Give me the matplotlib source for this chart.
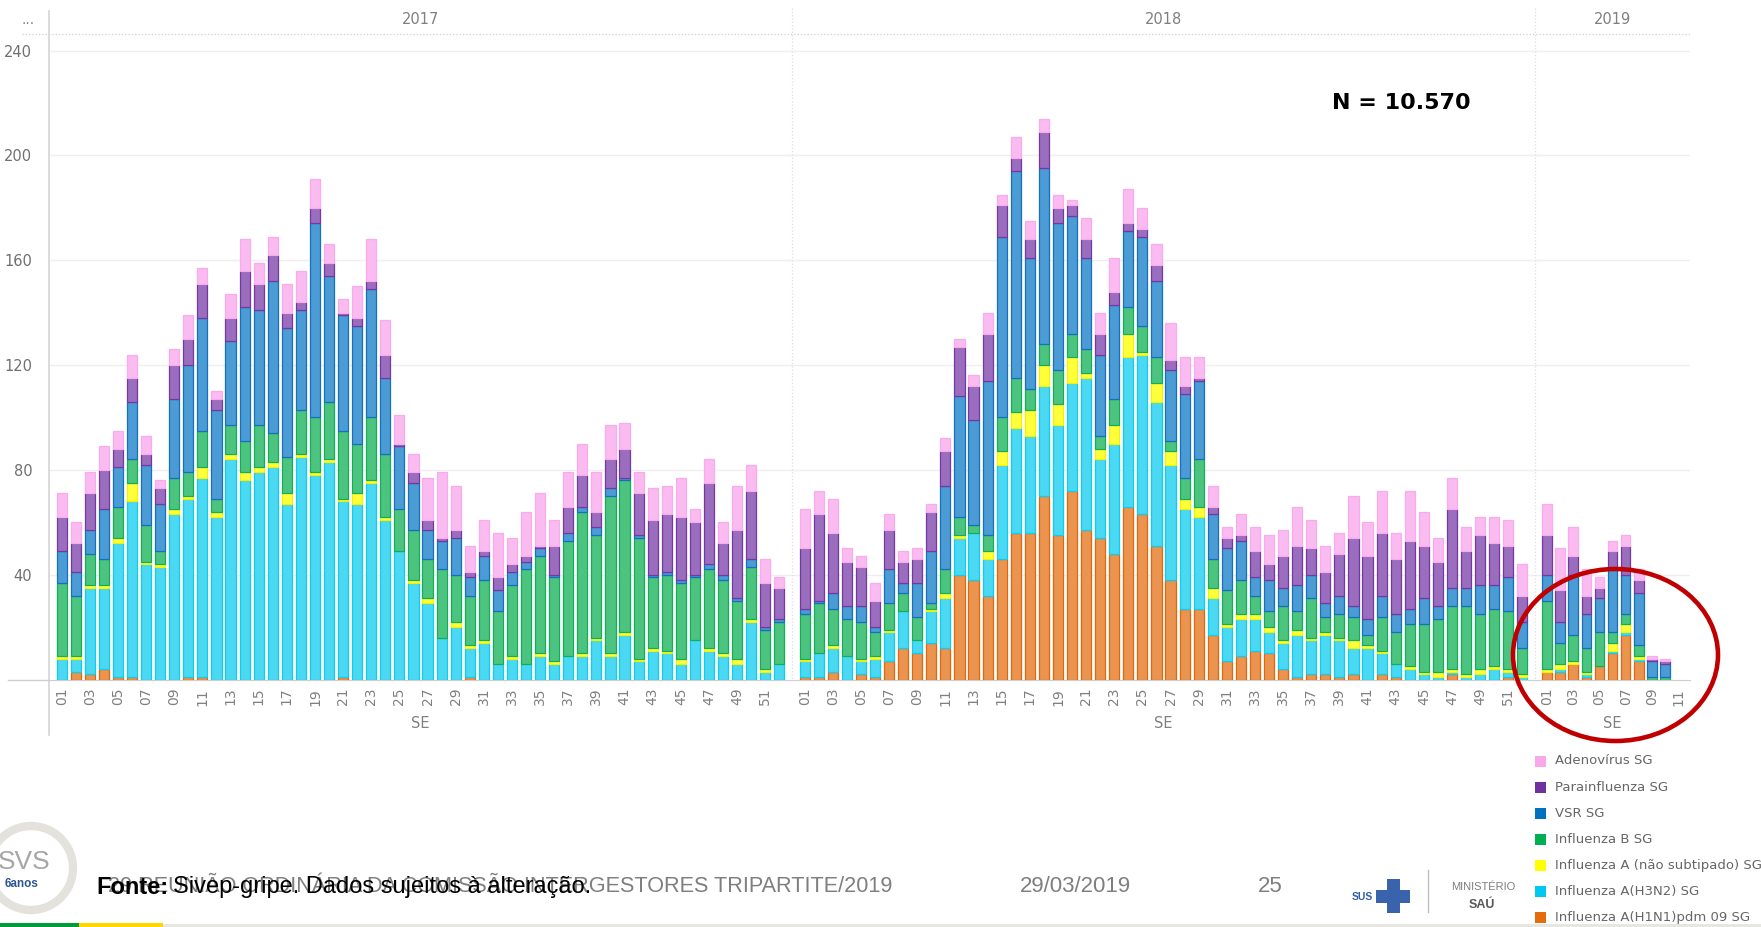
import numpy as np
import matplotlib
matplotlib.use("Agg")
import matplotlib.pyplot as plt
from matplotlib.patches import Rectangle, Ellipse
from matplotlib.lines import Line2D

W, H = 1761, 927

# casos por semana epidemiológica (SE), empilhados de baixo para cima
h1n1_2017 = [0, 3, 2, 4, 1, 1, 0, 0, 0, 1, 1, 0, 0, 0, 0, 0, 0, 0, 0, 0,
             1, 0, 0, 0, 0, 0, 0, 0, 0, 1, 0, 0, 0, 0, 0, 0, 0, 0, 0, 0,
             0, 0, 0, 0, 0, 0, 0, 0, 0, 0, 0, 0]
h3n2_2017 = [8, 5, 33, 31, 51, 67, 44, 43, 63, 68, 76, 62, 84, 76, 79, 81, 67, 85, 78, 83,
             67, 67, 75, 61, 49, 37, 29, 16, 20, 11, 14, 6, 8, 6, 9, 6, 9, 9, 15, 9,
             17, 7, 11, 10, 6, 15, 11, 9, 6, 22, 3, 6]
ana_2017 = [1, 1, 1, 1, 2, 7, 1, 1, 2, 1, 4, 2, 2, 3, 2, 2, 4, 1, 1, 1,
            1, 4, 1, 1, 0, 1, 2, 0, 2, 1, 1, 0, 1, 0, 1, 1, 0, 1, 1, 1,
            1, 1, 1, 1, 2, 0, 1, 1, 2, 1, 1, 0]
flub_2017 = [28, 23, 12, 10, 12, 9, 14, 5, 12, 9, 14, 5, 11, 12, 16, 11, 14, 17, 21, 22,
             26, 19, 24, 24, 16, 19, 15, 26, 18, 19, 23, 20, 27, 36, 37, 32, 44, 54, 39, 60,
             58, 46, 27, 29, 29, 24, 30, 28, 22, 20, 15, 16]
vsr_2017 = [12, 9, 9, 19, 15, 22, 23, 18, 30, 41, 43, 34, 32, 51, 44, 58, 49, 38, 74, 48,
            44, 45, 49, 29, 24, 18, 11, 11, 14, 7, 9, 8, 5, 3, 3, 1, 3, 2, 3, 3,
            1, 1, 1, 1, 1, 1, 2, 2, 1, 3, 1, 1]
para_2017 = [13, 11, 14, 15, 7, 9, 4, 6, 13, 10, 13, 4, 9, 14, 10, 10, 6, 3, 6, 5,
             1, 3, 3, 9, 1, 4, 4, 1, 3, 2, 2, 5, 3, 2, 1, 11, 10, 12, 6, 11,
             11, 16, 21, 22, 24, 20, 31, 12, 26, 26, 17, 12]
adeno_2017 = [9, 8, 8, 9, 7, 9, 7, 3, 6, 9, 6, 3, 9, 12, 8, 7, 11, 12, 11, 7,
              5, 12, 16, 13, 11, 7, 16, 25, 17, 10, 12, 17, 10, 17, 20, 10, 13, 12, 15, 13,
              10, 8, 12, 11, 15, 5, 9, 8, 17, 10, 9, 4]

h1n1_2018 = [1, 1, 3, 0, 2, 1, 7, 12, 10, 14, 12, 40, 38, 32, 46, 56, 56, 70, 55, 72,
             57, 54, 48, 66, 63, 51, 38, 27, 27, 17, 7, 9, 11, 10, 4, 1, 2, 2, 1, 2,
             0, 2, 1, 0, 0, 0, 2, 0, 0, 0, 1, 0]
h3n2_2018 = [6, 9, 9, 9, 5, 7, 11, 14, 5, 12, 19, 14, 18, 14, 36, 40, 37, 42, 42, 41,
             58, 30, 42, 57, 61, 55, 44, 38, 35, 14, 13, 14, 12, 8, 10, 16, 13, 15, 14, 10,
             12, 8, 5, 4, 2, 1, 1, 1, 2, 4, 2, 1]
ana_2018 = [1, 0, 1, 0, 1, 1, 1, 0, 0, 1, 2, 1, 0, 3, 5, 6, 10, 8, 8, 10,
            2, 4, 7, 9, 1, 7, 5, 4, 4, 4, 1, 2, 2, 2, 1, 2, 1, 1, 1, 3,
            1, 1, 0, 1, 1, 2, 1, 1, 2, 1, 1, 1]
flub_2018 = [17, 19, 14, 14, 14, 9, 10, 7, 9, 2, 9, 7, 3, 6, 13, 13, 8, 8, 13, 9,
             9, 5, 10, 10, 10, 10, 4, 8, 18, 11, 13, 13, 7, 6, 13, 7, 15, 6, 9, 9,
             4, 13, 12, 16, 18, 20, 24, 26, 21, 22, 22, 10]
vsr_2018 = [2, 1, 6, 5, 6, 2, 13, 4, 13, 20, 32, 46, 40, 59, 69, 79, 50, 67, 56, 45,
            35, 31, 36, 29, 34, 29, 27, 32, 30, 17, 16, 15, 7, 12, 7, 10, 9, 5, 7, 4,
            6, 8, 7, 6, 10, 5, 7, 7, 11, 9, 13, 10]
para_2018 = [23, 33, 23, 17, 15, 10, 15, 8, 9, 15, 13, 19, 13, 18, 12, 5, 7, 14, 6, 4,
             7, 8, 5, 3, 3, 6, 4, 3, 1, 3, 4, 2, 10, 6, 12, 15, 10, 12, 16, 26,
             24, 24, 21, 26, 20, 17, 30, 14, 19, 16, 12, 10]
adeno_2018 = [15, 9, 13, 5, 4, 7, 6, 4, 4, 3, 5, 3, 4, 8, 4, 8, 7, 5, 5, 2,
              8, 8, 13, 13, 8, 8, 14, 11, 8, 8, 4, 8, 9, 11, 10, 15, 11, 10, 8, 16,
              13, 16, 10, 19, 13, 9, 12, 9, 7, 10, 10, 12]

h1n1_2019 = [3, 3, 6, 1, 5, 10, 17, 7, 0, 0, 0]
h3n2_2019 = [0, 1, 0, 1, 0, 1, 1, 1, 0, 0, 0]
ana_2019 = [1, 2, 1, 1, 0, 3, 3, 1, 0, 0, 0]
flub_2019 = [26, 8, 10, 9, 13, 4, 4, 4, 1, 1, 0]
vsr_2019 = [10, 8, 23, 13, 13, 24, 15, 20, 6, 5, 0]
para_2019 = [15, 12, 7, 7, 4, 7, 11, 5, 1, 1, 0]
adeno_2019 = [12, 16, 11, 10, 4, 4, 4, 4, 1, 1, 0]

anos = ["2017", "2018", "2019"]
series_nomes = ["Influenza A(H1N1)pdm 09 SG", "Influenza A(H3N2) SG",
                "Influenza A (não subtipado) SG", "Influenza B SG",
                "VSR SG", "Parainfluenza SG", "Adenovírus SG"]
cor_legenda = ["#E46C0A", "#00C8F0", "#FFFF00", "#00B050", "#0070C0", "#7030A0", "#F9A9EA"]
cor_barra = ["#EB944F", "#4AD8F2", "#FFFF3C", "#4CC47F", "#4B9BD5", "#9B6DBE", "#FABBF0"]
cor_borda = ["#E0670A", "#10CCEE", "#F2F200", "#10B058", "#1570C0", "#7438A2", "#F9ABEC"]

dados = {
    "2017": [h1n1_2017, h3n2_2017, ana_2017, flub_2017, vsr_2017, para_2017, adeno_2017],
    "2018": [h1n1_2018, h3n2_2018, ana_2018, flub_2018, vsr_2018, para_2018, adeno_2018],
    "2019": [h1n1_2019, h3n2_2019, ana_2019, flub_2019, vsr_2019, para_2019, adeno_2019],
}


def fx(px):
    return px / W


def fy(py):
    return 1 - py / H


fig = plt.figure(figsize=(W / 100, H / 100), dpi=100)
fig.patch.set_facecolor("white")

base_y = 679.5
topo_y = 34
ymax = 246.3
paineis = [("2017", 49, 792), ("2018", 792, 1535), ("2019", 1535, 1690)]

for ano, x0, x1 in paineis:
    ax = fig.add_axes([fx(x0), fy(base_y), (x1 - x0) / W, (base_y - topo_y) / H])
    ax.set_facecolor("none")
    series = dados[ano]
    n = len(series[0])
    x = np.arange(n)
    fundo = np.zeros(n)
    for vals, fc, ec in zip(series, cor_barra, cor_borda):
        vals = np.array(vals, dtype=float)
        m = vals > 0
        ax.bar(x[m], vals[m], bottom=fundo[m], width=0.72, color=fc,
               edgecolor=ec, linewidth=0.9, zorder=3)
        fundo += vals
    ax.set_xlim(-0.9, n - 0.1)
    ax.set_ylim(0, ymax)
    ax.set_yticks([40, 80, 120, 160, 200, 240])
    ax.grid(axis="y", color="#efefef", linewidth=1.0, zorder=0)
    ax.tick_params(axis="y", length=0, pad=12, labelcolor="#707070", labelsize=10.5)
    if ano != "2017":
        ax.tick_params(axis="y", labelleft=False)
    ax.set_xticks(x[::2])
    ax.set_xticklabels([f"{i + 1:02d}" for i in x[::2]], rotation=90,
                       fontsize=10, color="#808080")
    ax.tick_params(axis="x", length=0, pad=6)
    for s in ["left", "right", "top"]:
        ax.spines[s].set_visible(False)
    ax.spines["bottom"].set_color("#cfcfcf")
    meio = (x0 + x1) / 2
    fig.text(fx(meio), fy(20), ano, ha="center", va="center", fontsize=10.5, color="#808080")
    fig.text(fx(meio), fy(724), "SE", ha="center", va="center", fontsize=10.5, color="#808080")

# linhas da moldura
fig.add_artist(Line2D([fx(49), fx(49)], [fy(11), fy(735)], transform=fig.transFigure,
                      color="#d4d4d4", lw=1.2))
fig.add_artist(Line2D([fx(22), fx(1690)], [fy(topo_y), fy(topo_y)], transform=fig.transFigure,
                      color="#d0d0d0", lw=0.9, ls=":"))
fig.add_artist(Line2D([fx(8), fx(49)], [fy(base_y), fy(base_y)], transform=fig.transFigure,
                      color="#cfcfcf", lw=1))
for xd in [792, 1535]:
    fig.add_artist(Line2D([fx(xd), fx(xd)], [fy(8), fy(base_y)], transform=fig.transFigure,
                          color="#dedede", lw=0.9, ls=":"))
fig.text(fx(28), fy(20), "...", ha="center", va="center", fontsize=10, color="#808080")

fig.text(fx(1401), fy(103), "N = 10.570", ha="center", va="center", fontsize=16,
         fontweight="bold", color="black")

fig.add_artist(Ellipse((fx(1615.5), fy(655)), 205 / W, 172 / H, transform=fig.transFigure,
                       fill=False, edgecolor="#C00000", lw=3.3, zorder=20))

# legenda
for i, k in enumerate(range(6, -1, -1)):
    yc = 761 + 26.1 * i
    fig.add_artist(Rectangle((fx(1535), fy(yc + 5.5)), 11 / W, 11 / H, transform=fig.transFigure,
                             facecolor=cor_legenda[k], edgecolor="none"))
    fig.text(fx(1555), fy(yc), series_nomes[k], ha="left", va="center", fontsize=9.5,
             color="#666666")

# rodapé do slide
fig.add_artist(Ellipse((fx(31), fy(868)), 84 / W, 84 / H, transform=fig.transFigure,
                       fill=False, edgecolor="#E4E2DC", lw=6))
fig.text(fx(24), fy(862), "SVS", ha="center", va="center", fontsize=19, color="#A6A6A6",
         family="Liberation Sans")
fig.text(fx(22), fy(884), "6anos", ha="center", va="center", fontsize=8.5, color="#2F5597",
         fontweight="bold", family="Liberation Sans")

fig.text(fx(108), fy(887), "29 REUNIÃO ORDINÁRIA DA COMISSÃO INTERGESTORES TRIPARTITE/2019",
         ha="left", va="center", fontsize=15.6, color="#7F7F7F", family="Liberation Sans")
t_fonte = fig.text(fx(96), fy(887), "Fonte:", ha="left", va="center", fontsize=17,
                   color="black", fontweight="bold", family="Liberation Sans")
fig.canvas.draw()
bb = t_fonte.get_window_extent()
fig.text((bb.x1 + 5) / W, fy(887), "Sivep-gripe. Dados sujeitos à alteração.", ha="left",
         va="center", fontsize=17, color="black", family="Liberation Sans")
fig.text(fx(1020), fy(887), "29/03/2019", ha="left", va="center", fontsize=16,
         color="#7F7F7F", family="Liberation Sans")
fig.text(fx(1258), fy(887), "25", ha="left", va="center", fontsize=16,
         color="#7F7F7F", family="Liberation Sans")

fig.text(fx(1362), fy(897), "SUS", ha="center", va="center", fontsize=7.5, color="#2F5DA8",
         fontweight="bold", family="Liberation Sans")
fig.add_artist(Rectangle((fx(1376), fy(903)), 34 / W, 13 / H, transform=fig.transFigure,
                         facecolor="#3A63AE", edgecolor="none"))
fig.add_artist(Rectangle((fx(1386.5), fy(913)), 13 / W, 34 / H, transform=fig.transFigure,
                         facecolor="#3A63AE", edgecolor="none"))
fig.add_artist(Line2D([fx(1428), fx(1428)], [fy(870), fy(912)], transform=fig.transFigure,
                      color="#BFBFBF", lw=1))
fig.text(fx(1451), fy(887), "MINISTÉRIO", ha="left", va="center", fontsize=8, color="#7F7F7F",
         family="Liberation Sans")
fig.text(fx(1469), fy(905), "SAÚ", ha="left", va="center", fontsize=9, color="#595959",
         fontweight="bold", family="Liberation Sans")

fig.add_artist(Rectangle((0, 0), fx(79), 4 / H, transform=fig.transFigure,
                         facecolor="#009B3A", edgecolor="none"))
fig.add_artist(Rectangle((fx(79), 0), fx(84), 4 / H, transform=fig.transFigure,
                         facecolor="#FFD700", edgecolor="none"))
fig.add_artist(Rectangle((fx(163), 0), fx(1598), 3 / H, transform=fig.transFigure,
                         facecolor="#E8E6E0", edgecolor="none"))

fig.savefig("out.png", dpi=100, facecolor="white")
